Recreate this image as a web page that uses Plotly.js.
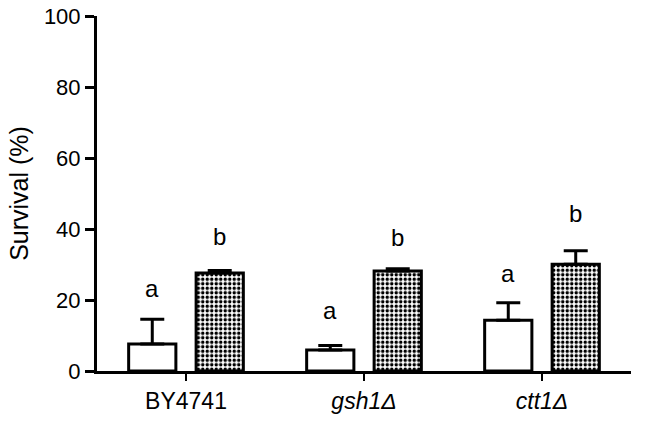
<!DOCTYPE html>
<html>
<head>
<meta charset="utf-8">
<script src="https://cdn.plot.ly/plotly-3.0.1.min.js"></script>
<style>html,body{margin:0;padding:0;background:#fff;} #chart{width:645px;height:422px;}</style>
</head>
<body>
<div id="chart"></div>
<script>
// Data
var categories = ["BY4741", "gsh1Δ", "ctt1Δ"];
var tickLabels = ["BY4741", "<i>gsh1Δ</i>", "<i>ctt1Δ</i>"];
var controlValues = [7.6, 5.9, 14.3];
var controlErrors = [7.0, 1.3, 4.9];
var treatedValues = [27.6, 28.2, 30.1];
var treatedErrors = [0.7, 0.6, 3.8];
var controlLetters = ["a", "a", "a"];
var treatedLetters = ["b", "b", "b"];
var controlLetterY = [23.3, 17.0, 27.6];
var treatedLetterY = [37.8, 37.7, 44.4];
var yTicks = [0, 20, 40, 60, 80, 100];

var FONT = "Liberation Sans, Arial, Helvetica, sans-serif";
var idx = categories.map(function(c, i){ return i; });

var errStyle = {type: "data", symmetric: false, arrayminus: [0,0,0], color: "#000", thickness: 3, width: 12, visible: true};

var traces = [
  {
    type: "bar", name: "control", x: idx, y: controlValues,
    marker: {color: "#fff", line: {color: "#000", width: 3}},
    error_y: Object.assign({}, errStyle, {array: controlErrors}),
    hoverinfo: "none"
  },
  {
    type: "bar", name: "treated", x: idx, y: treatedValues,
    marker: {color: "#fff", line: {color: "#000", width: 3},
             pattern: {shape: ".", fgcolor: "#000", bgcolor: "#fff", size: 4.5, solidity: 0.47, fillmode: "replace"}},
    error_y: Object.assign({}, errStyle, {array: treatedErrors}),
    hoverinfo: "none"
  }
];

var groupOffset = 0.19;
var annotations = [];
idx.forEach(function(i){
  annotations.push({x: i - groupOffset, y: controlLetterY[i], xref: "x", yref: "y", text: controlLetters[i], showarrow: false, font: {family: FONT, size: 24, color: "#000"}});
  annotations.push({x: i + groupOffset, y: treatedLetterY[i], xref: "x", yref: "y", text: treatedLetters[i], showarrow: false, font: {family: FONT, size: 24, color: "#000"}});
});

var layout = {
  width: 645, height: 422,
  margin: {l: 97, r: 14, t: 16, b: 51, pad: 0},
  paper_bgcolor: "#fff", plot_bgcolor: "#fff",
  showlegend: false,
  barmode: "group", bargap: 0.242, bargroupgap: 0.30,
  font: {family: FONT, size: 22, color: "#000"},
  xaxis: {
    range: [-0.5, 2.5], tickmode: "array", tickvals: idx, ticktext: tickLabels,
    showline: true, linecolor: "#000", linewidth: 3,
    ticks: "outside", ticklen: 7, tickwidth: 2, tickcolor: "#000",
    showgrid: false, zeroline: false,
    tickfont: {family: FONT, size: 23, color: "#000"}
  },
  yaxis: {
    range: [0, 100], tickmode: "array", tickvals: yTicks,
    showline: true, linecolor: "#000", linewidth: 3,
    ticks: "outside", ticklen: 9, tickwidth: 3, tickcolor: "#000",
    showgrid: false, zeroline: false,
    tickfont: {family: FONT, size: 22, color: "#000"},
    title: {text: "Survival (%)", font: {family: FONT, size: 25, color: "#000"}, standoff: 9}
  },
  annotations: annotations
};

Plotly.newPlot("chart", traces, layout, {staticPlot: true, displayModeBar: false});
</script>
</body>
</html>
